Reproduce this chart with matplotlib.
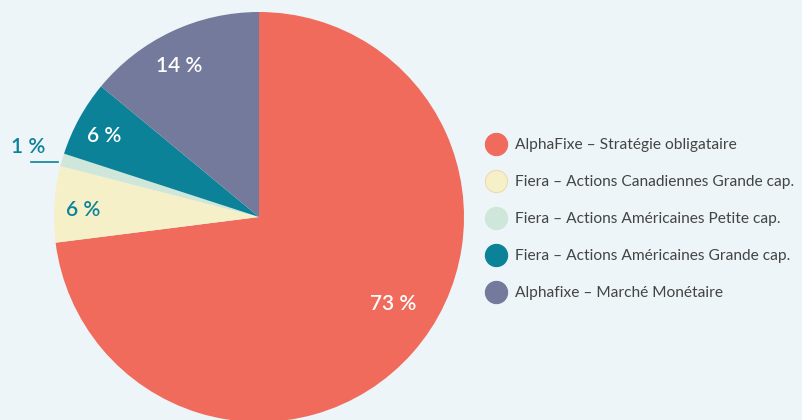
import numpy as np
import matplotlib
matplotlib.use("Agg")
import matplotlib.pyplot as plt
from matplotlib.lines import Line2D

plt.rcParams['font.family'] = ['Lato', 'DejaVu Sans']

categories = [
    "AlphaFixe – Stratégie obligataire",
    "Fiera – Actions Canadiennes Grande cap.",
    "Fiera – Actions Américaines Petite cap.",
    "Fiera – Actions Américaines Grande cap.",
    "Alphafixe – Marché Monétaire",
]
values = [73, 6, 1, 6, 14]
labels = ["73 %", "6 %", "1 %", "6 %", "14 %"]
colors = ["#F06B5B", "#F6F0C9", "#CFE6DA", "#0B8298", "#737A9B"]
label_colors = ["white", "#0B8298", "#0B8298", "white", "white"]

BG = "#EDF5F8"
W, H = 802, 420
fig = plt.figure(figsize=(W / 100, H / 100), dpi=100, facecolor=BG)

cx, cy, R = 259, 217, 205
ax = fig.add_axes([(cx - R) / W, (H - cy - R) / H, 2 * R / W, 2 * R / H])
ax.axis("off")
ax.set_facecolor(BG)

wedges, _ = ax.pie(values, colors=colors, startangle=90, counterclock=False,
                   radius=1, wedgeprops=dict(linewidth=0))
ax.set_xlim(-1, 1)
ax.set_ylim(-1, 1)
ax.set_aspect("auto")

dy = -4 / R
for i, w in enumerate(wedges):
    mid = np.deg2rad((w.theta1 + w.theta2) / 2)
    if values[i] >= 3:
        r = 0.86
        if i == 0:
            mid = mid + np.deg2rad(9.5)
            r = 0.77
        elif i == 4:
            mid = mid + np.deg2rad(2.0)
            r = 0.85
        ax.text(r * np.cos(mid), r * np.sin(mid) + dy, labels[i], color=label_colors[i],
                fontsize=15, fontweight="semibold", ha="center", va="center")
    else:
        x0 = 1.0 * np.cos(mid) - 0.02
        y0 = 1.0 * np.sin(mid) - 2 / R
        x1 = x0 - 27 / R
        ax.plot([x0, x1], [y0, y0], color=label_colors[i], lw=1.2, clip_on=False)
        ax.text(x1 - 3 / R, y0 + 5 / R, labels[i], color=label_colors[i],
                fontsize=15, fontweight="semibold", ha="center", va="bottom")

handles = [Line2D([], [], marker="o", linestyle="none", markersize=16,
                  markerfacecolor=c, markeredgecolor=(c if c != "#F6F0C9" else "#EED9B5"),
                  markeredgewidth=0.8) for c in colors]
leg = fig.legend(handles, categories, loc="center left",
                 bbox_to_anchor=(480 / W, 1 - 219 / H), frameon=False,
                 fontsize=11.2, labelspacing=1.48, handletextpad=0.6,
                 handlelength=1.25, borderaxespad=0)
for t in leg.get_texts():
    t.set_color("#444444")
    t.set_fontweight("normal")

fig.savefig("out.png", dpi=100, facecolor=BG)
